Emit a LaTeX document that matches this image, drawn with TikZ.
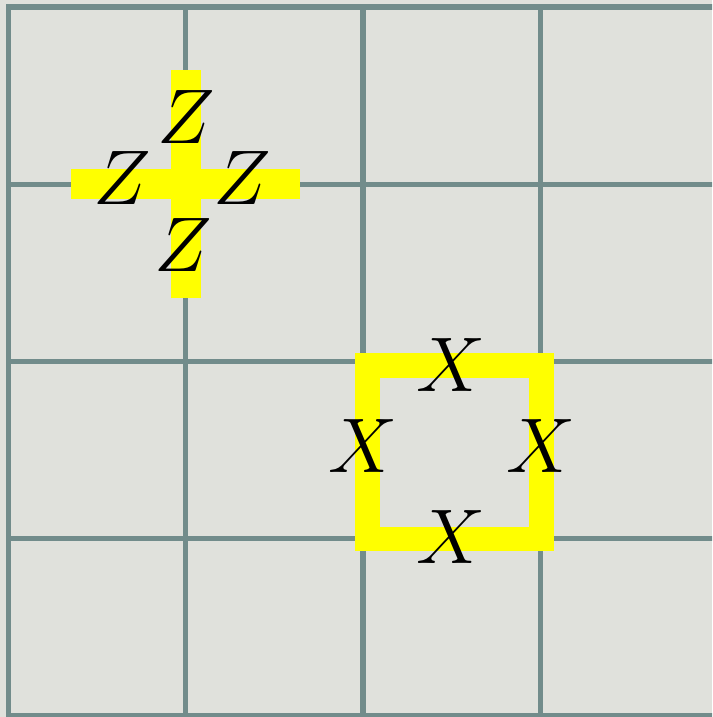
\documentclass[tikz,border=0pt]{standalone}
\definecolor{slab}{HTML}{E0E1DC}
\definecolor{edgegrey}{HTML}{728C8B}
\definecolor{opyellow}{HTML}{FFFF00}

\begin{document}
\begin{tikzpicture}[x=2cm, y=2cm,
    oplabel/.style={inner sep=0pt, font=\fontsize{25}{30}\selectfont}]

  % === Toric lattice patch with one star and one plaquette operator ===

  \def\armL{0.645}   % half-length of star arms
  \def\armW{0.338cm} % width of star arms
  \def\bandW{0.276cm} % width of plaquette band

  % Canvas (fixes margins)
  \useasboundingbox (-0.048, -0.006) rectangle (3.969, 4.039);
  \fill[slab] (-0.048, -0.006) rectangle (3.969, 4.039);

  % Lattice edges
  \begin{scope}
    \clip (-0.048, -0.006) rectangle (3.969, 4.039);
    \foreach \x in {0,...,4} {
      \draw[edgegrey, line width=1.7pt, line cap=rect] (\x, 0) -- (\x, 4);
    }
    \foreach \y in {0,...,4} {
      \draw[edgegrey, line width=1.7pt, line cap=rect] (0, \y) -- (4, \y);
    }
  \end{scope}

  % === Star operator (vertex) ===
  \coordinate (star) at (1, 3);
  \draw[opyellow, line width=\armW] (1 - \armL, 3) -- (1 + \armL, 3);
  \draw[opyellow, line width=\armW] (1, 3 - \armL) -- (1, 3 + \armL);

  \node[oplabel] (zN) at (1.000, 3.379) {$Z$};
  \node[oplabel] (zW) at (0.639, 3.035) {$Z$};
  \node[oplabel] (zE) at (1.321, 3.035) {$Z$};
  \node[oplabel] (zS) at (0.983, 2.657) {$Z$};

  % === Plaquette operator (face) ===
  \draw[opyellow, line width=\bandW] (2.025, 0.999) rectangle (3.006, 1.977);

  \node[oplabel] (xN) at (2.496, 1.980) {$X$};
  \node[oplabel] (xW) at (2.000, 1.523) {$X$};
  \node[oplabel] (xE) at (3.003, 1.523) {$X$};
  \node[oplabel] (xS) at (2.496, 1.010) {$X$};

\end{tikzpicture}
\end{document}
